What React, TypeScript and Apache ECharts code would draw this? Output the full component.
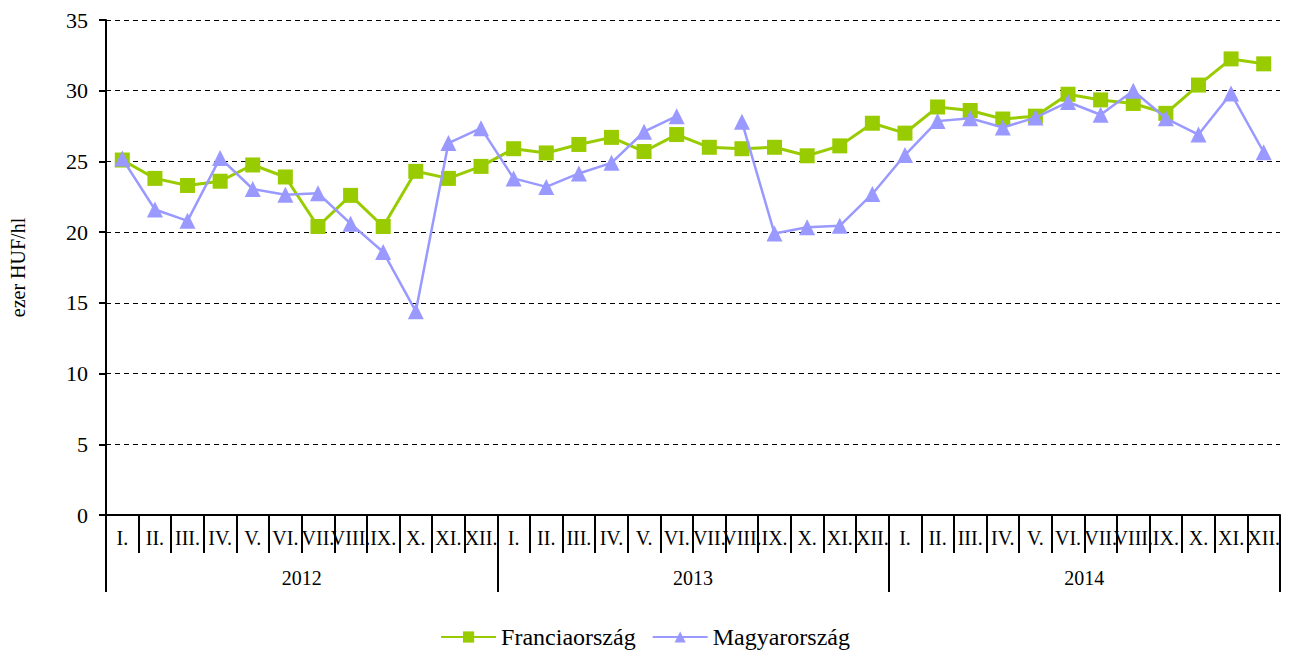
import React, { useEffect, useRef } from "react";
import * as echarts from "echarts";

const months = ["I.", "II.", "III.", "IV.", "V.", "VI.", "VII.", "VIII.", "IX.", "X.", "XI.", "XII."];
const years = ["2012", "2013", "2014"];
const categories: string[] = years.flatMap((y) => months.map((m) => `${y} ${m}`));

const francia: number[] = [
  25.1, 23.8, 23.3, 23.6, 24.75, 23.9, 20.4, 22.6, 20.4, 24.3, 23.8, 24.65,
  25.9, 25.6, 26.2, 26.7, 25.7, 26.9, 26.0, 25.9, 26.0, 25.4, 26.1, 27.7,
  27.0, 28.85, 28.6, 28.0, 28.2, 29.75, 29.35, 29.1, 28.4, 30.4, 32.25, 31.9,
];
const magyar: (number | null)[] = [
  25.2, 21.6, 20.8, 25.25, 23.05, 22.65, 22.75, 20.6, 18.6, 14.4, 26.3, 27.35,
  23.8, 23.2, 24.15, 24.9, 27.1, 28.2, null, 27.8, 19.9, 20.35, 20.45, 22.7,
  25.45, 27.85, 28.05, 27.4, 28.1, 29.2, 28.3, 30.0, 28.05, 26.9, 29.8, 25.65,
];
const yTicks = { min: 0, max: 35, interval: 5 };

const FONT = "'Liberation Serif', 'Times New Roman', serif";

export default function App() {
  const ref = useRef<HTMLDivElement>(null);
  useEffect(() => {
    if (!ref.current) return;
    const chart = echarts.init(ref.current, undefined, { renderer: "svg" });
    chart.setOption({
      animation: false,
      textStyle: { fontFamily: FONT, color: "#000" },
      grid: { left: 105, right: 10, top: 20, bottom: 139, containLabel: false },
      legend: {
        bottom: 0,
        left: "center",
        itemWidth: 55,
        itemHeight: 14,
        itemGap: 16,
        textStyle: { fontFamily: FONT, fontSize: 24, color: "#000" },
        data: ["Franciaország", "Magyarország"],
      },
      xAxis: [
        {
          type: "category",
          data: categories,
          boundaryGap: true,
          axisLine: { show: true, lineStyle: { color: "#000", width: 2 } },
          axisTick: { show: true, length: 38, interval: 0, lineStyle: { color: "#000", width: 2 } },
          axisLabel: {
            interval: 0,
            margin: 13,
            fontFamily: FONT,
            fontSize: 20,
            color: "#000",
            formatter: (v: string) => v.split(" ")[1],
          },
        },
        {
          type: "category",
          data: years,
          position: "bottom",
          boundaryGap: true,
          axisLine: { show: false },
          axisTick: { show: true, length: 77, interval: 0, lineStyle: { color: "#000", width: 2 } },
          axisLabel: { interval: 0, margin: 53, fontFamily: FONT, fontSize: 20, color: "#000" },
        },
      ],
      yAxis: {
        type: "value",
        min: yTicks.min,
        max: yTicks.max,
        interval: yTicks.interval,
        name: "ezer HUF/hl",
        nameLocation: "middle",
        nameGap: 78,
        nameTextStyle: { fontFamily: FONT, fontSize: 20, color: "#000" },
        axisLine: { show: true, lineStyle: { color: "#000", width: 2 } },
        axisTick: { show: true, length: 7, lineStyle: { color: "#000", width: 2 } },
        axisLabel: { margin: 18, fontFamily: FONT, fontSize: 22, color: "#000" },
        splitLine: { show: true, lineStyle: { color: "#000", type: [5, 4], width: 1 } },
      },
      series: [
        {
          name: "Franciaország",
          type: "line",
          xAxisIndex: 0,
          data: francia,
          symbol: "rect",
          symbolSize: 15,
          itemStyle: { color: "#99CC00" },
          lineStyle: { color: "#99CC00", width: 3 },
          z: 3,
        },
        {
          name: "Magyarország",
          type: "line",
          xAxisIndex: 0,
          data: magyar,
          connectNulls: false,
          symbol: "triangle",
          symbolSize: 16,
          itemStyle: { color: "#9999FF" },
          lineStyle: { color: "#9999FF", width: 2.5 },
          z: 4,
        },
      ],
    });
    return () => chart.dispose();
  }, []);
  return <div ref={ref} style={{ width: 1290, height: 654, position: "absolute", left: 0, top: 0 }} />;
}
